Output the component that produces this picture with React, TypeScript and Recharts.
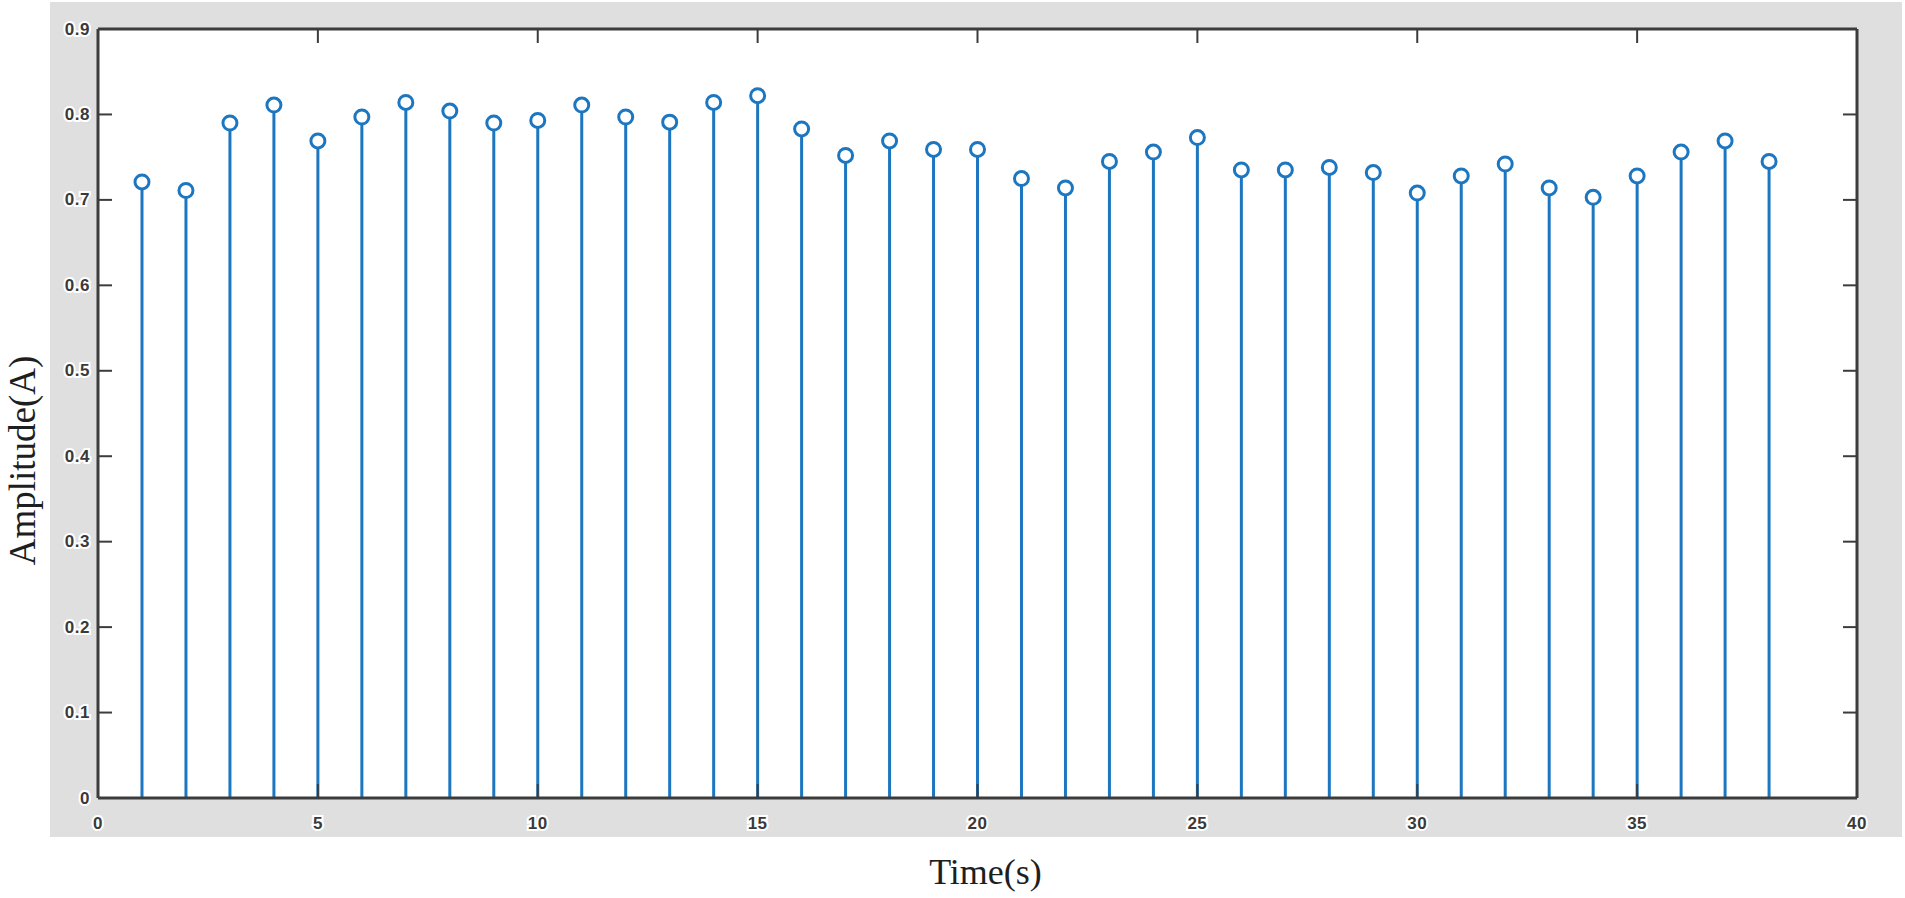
import React from 'react';
import { ComposedChart, Bar, XAxis, YAxis, CartesianGrid, Label } from 'recharts';

const times = [
  1, 2, 3, 4, 5, 6, 7, 8, 9, 10,
  11, 12, 13, 14, 15, 16, 17, 18, 19, 20,
  21, 22, 23, 24, 25, 26, 27, 28, 29, 30,
  31, 32, 33, 34, 35, 36, 37, 38,
];
const amplitudes = [
  0.721, 0.711, 0.790, 0.811, 0.769, 0.797, 0.814, 0.804, 0.790, 0.793,
  0.811, 0.797, 0.791, 0.814, 0.822, 0.783, 0.752, 0.769, 0.759, 0.759,
  0.725, 0.714, 0.745, 0.756, 0.773, 0.735, 0.735, 0.738, 0.732, 0.708,
  0.728, 0.742, 0.714, 0.703, 0.728, 0.756, 0.769, 0.745,
];
const xTicks = [0, 5, 10, 15, 20, 25, 30, 35, 40];
const yTicks = [0, 0.1, 0.2, 0.3, 0.4, 0.5, 0.6, 0.7, 0.8, 0.9];
const xTitle = 'Time(s)';
const yTitle = 'Amplitude(A)';

const W = 1905;
const H = 898;
const STEM = '#1c76c0';
const AXIS = '#3c3c3c';
const TICK_LEN = 14;

const data = times.map((t, i) => ({ t, v: amplitudes[i] }));

const tickTextStyle: React.CSSProperties = {
  fontFamily: '"Liberation Sans", Arial, sans-serif',
  fontWeight: 'bold',
  fontSize: 17,
  letterSpacing: 0.5,
};

const fmtY = (v: number) => (v === 0 ? '0' : v.toFixed(1));

const LeftTick = (props: any) => {
  const { x, y, payload } = props;
  return (
    <g>
      <line x1={x} y1={y} x2={x + TICK_LEN} y2={y} stroke={AXIS} strokeWidth={2} />
      <text
        x={x - 8}
        y={y}
        textAnchor="end"
        dominantBaseline="central"
        fill="#3a3a3a"
        stroke="#ffffff"
        strokeWidth={4}
        paintOrder="stroke"
        style={tickTextStyle}
      >
        {fmtY(payload.value)}
      </text>
    </g>
  );
};

const RightTick = (props: any) => {
  const { x, y } = props;
  return <line x1={x} y1={y} x2={x - TICK_LEN} y2={y} stroke={AXIS} strokeWidth={2} />;
};

const BottomTick = (props: any) => {
  const { x, y, payload } = props;
  return (
    <g>
      <line x1={x} y1={y} x2={x} y2={y - TICK_LEN} stroke={AXIS} strokeWidth={2} />
      <text
        x={x}
        y={y + 25}
        textAnchor="middle"
        dominantBaseline="central"
        fill="#3a3a3a"
        stroke="#ffffff"
        strokeWidth={4}
        paintOrder="stroke"
        style={tickTextStyle}
      >
        {String(payload.value)}
      </text>
    </g>
  );
};

const TopTick = (props: any) => {
  const { x, y } = props;
  return <line x1={x} y1={y} x2={x} y2={y + TICK_LEN} stroke={AXIS} strokeWidth={2} />;
};

const StemShape = (props: any) => {
  const { x, y, width, height } = props;
  if (x == null || y == null) return null;
  const cx = x + (width || 0) / 2;
  return (
    <g>
      <line x1={cx} y1={y} x2={cx} y2={y + height} stroke={STEM} strokeWidth={3} />
      <circle cx={cx} cy={y} r={7} fill="#ffffff" stroke={STEM} strokeWidth={3} />
    </g>
  );
};

const YTitle = (props: any) => {
  const vb = props.viewBox || {};
  const cx = vb.x + 22;
  const cy = vb.y + vb.height / 2 + 47;
  return (
    <text
      x={cx}
      y={cy}
      transform={`rotate(-90, ${cx}, ${cy})`}
      textAnchor="middle"
      dominantBaseline="central"
      fill="#1e1e1e"
      style={{ fontFamily: '"Liberation Serif", "Times New Roman", serif', fontSize: 37 }}
    >
      {yTitle}
    </text>
  );
};

const XTitle = (props: any) => {
  const vb = props.viewBox || {};
  const cx = vb.x + vb.width / 2 + 8;
  const cy = vb.y + 74;
  return (
    <text
      x={cx}
      y={cy}
      textAnchor="middle"
      dominantBaseline="central"
      fill="#1e1e1e"
      style={{ fontFamily: '"Liberation Serif", "Times New Roman", serif', fontSize: 36 }}
    >
      {xTitle}
    </text>
  );
};

export default function App() {
  return (
    <div style={{ position: 'absolute', left: 0, top: 0, width: W, height: H, background: '#ffffff' }}>
      <div
        style={{
          position: 'absolute',
          left: 50,
          top: 2,
          width: 1852,
          height: 835,
          background: '#dfdfdf',
        }}
      />
      <div style={{ position: 'absolute', left: 0, top: 0 }}>
        <ComposedChart width={W} height={H} data={data} margin={{ top: 0, right: 0, bottom: 0, left: 0 }}>
          <CartesianGrid horizontal={false} vertical={false} fill="#ffffff" stroke="none" />
          <XAxis
            xAxisId="bottom"
            dataKey="t"
            type="number"
            domain={[0, 40]}
            ticks={xTicks}
            allowDataOverflow
            height={100}
            tickSize={0}
            tickMargin={0}
            tickLine={false}
            axisLine={{ stroke: AXIS, strokeWidth: 3 }}
            tick={<BottomTick />}
            interval={0}
          >
            <Label content={<XTitle />} />
          </XAxis>
          <XAxis
            xAxisId="top"
            orientation="top"
            dataKey="t"
            type="number"
            domain={[0, 40]}
            ticks={xTicks}
            allowDataOverflow
            height={29}
            tickSize={0}
            tickMargin={0}
            tickLine={false}
            axisLine={{ stroke: AXIS, strokeWidth: 3 }}
            tick={<TopTick />}
            interval={0}
          />
          <YAxis
            yAxisId="left"
            type="number"
            domain={[0, 0.9]}
            ticks={yTicks}
            allowDataOverflow
            width={98}
            tickSize={0}
            tickMargin={0}
            tickLine={false}
            axisLine={{ stroke: AXIS, strokeWidth: 3 }}
            tick={<LeftTick />}
            interval={0}
          >
            <Label content={<YTitle />} />
          </YAxis>
          <YAxis
            yAxisId="right"
            orientation="right"
            type="number"
            domain={[0, 0.9]}
            ticks={yTicks}
            allowDataOverflow
            width={48}
            tickSize={0}
            tickMargin={0}
            tickLine={false}
            axisLine={{ stroke: AXIS, strokeWidth: 3 }}
            tick={<RightTick />}
            interval={0}
          />
          <Bar
            xAxisId="bottom"
            yAxisId="left"
            dataKey="v"
            barSize={2}
            shape={<StemShape />}
            isAnimationActive={false}
          />
        </ComposedChart>
      </div>
    </div>
  );
}
